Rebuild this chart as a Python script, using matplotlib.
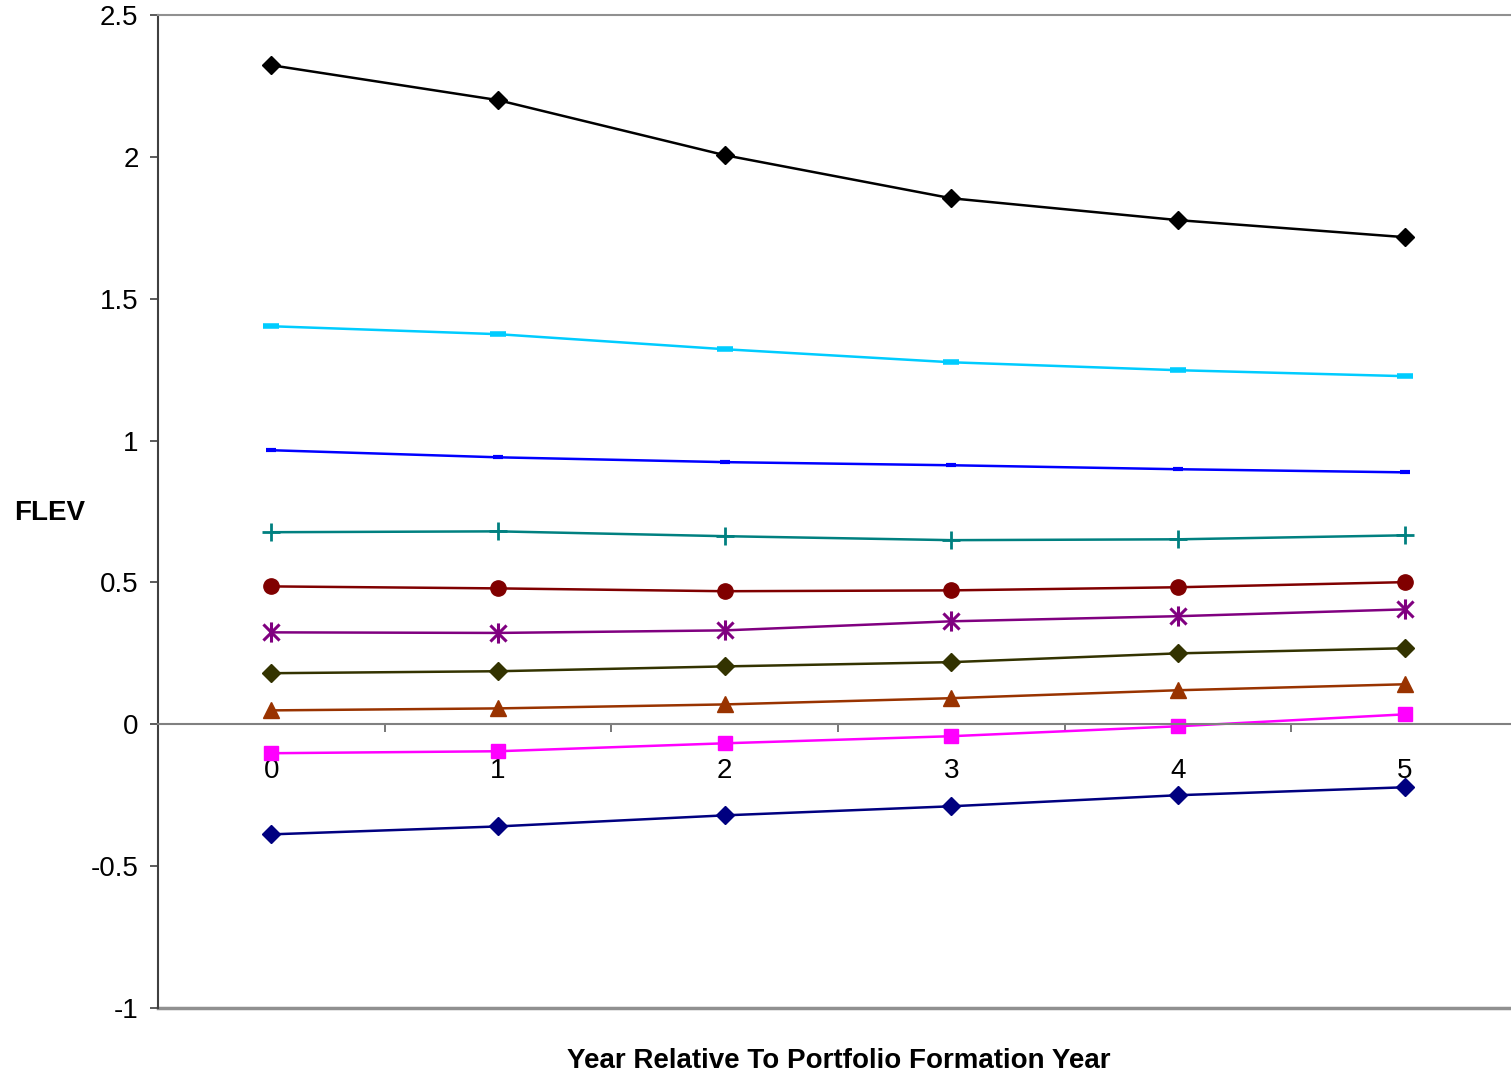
import numpy as np
import matplotlib.pyplot as plt
from matplotlib.path import Path

plt.rcParams['font.family'] = ['Liberation Sans', 'DejaVu Sans']

years = [0, 1, 2, 3, 4, 5]

# FLEV by portfolio, highest to lowest
p10 = [2.323, 2.200, 2.006, 1.854, 1.777, 1.717]
p9 = [1.403, 1.375, 1.322, 1.276, 1.248, 1.227]
p8 = [0.966, 0.941, 0.924, 0.913, 0.899, 0.888]
p7 = [0.677, 0.680, 0.663, 0.649, 0.652, 0.666]
p6 = [0.486, 0.479, 0.469, 0.472, 0.483, 0.501]
p5 = [0.324, 0.322, 0.331, 0.363, 0.381, 0.405]
p4 = [0.180, 0.187, 0.204, 0.219, 0.250, 0.268]
p3 = [0.049, 0.056, 0.070, 0.092, 0.120, 0.141]
p2 = [-0.102, -0.095, -0.067, -0.042, -0.007, 0.035]
p1 = [-0.388, -0.360, -0.321, -0.289, -0.250, -0.222]

# star marker: an X with a vertical stroke through it
star = Path([(-0.8, -0.8), (0.8, 0.8), (-0.8, 0.8), (0.8, -0.8), (0, -1), (0, 1)],
            [Path.MOVETO, Path.LINETO, Path.MOVETO, Path.LINETO, Path.MOVETO, Path.LINETO])

series = [
    (p10, '#000000', 'D', 9.5),
    (p9, '#00CCFF', '_', 12),
    (p8, '#0000FF', '_', 7),
    (p7, '#008080', '+', 13),
    (p6, '#800000', 'o', 11),
    (p5, '#800080', star, 14.5),
    (p4, '#333300', 'D', 9.5),
    (p3, '#993300', '^', 12),
    (p2, '#FF00FF', 's', 10),
    (p1, '#000080', 'D', 9),
]

fig = plt.figure(figsize=(15.11, 10.79), dpi=100)
ax = fig.add_axes([158 / 1511, 71 / 1079, 1360 / 1511, 993 / 1079])

for vals, color, marker, ms in series:
    kw = dict(color=color, lw=1.8, marker=marker, markersize=ms,
              markerfacecolor=color, markeredgecolor=color, clip_on=False)
    if isinstance(marker, Path):
        kw['markeredgewidth'] = 2.2
        kw['markerfacecolor'] = 'none'
    elif marker == '_':
        kw['markeredgewidth'] = 4 if ms > 10 else 3
    elif marker == '+':
        kw['markeredgewidth'] = 2
    ax.plot(years, vals, **kw)

ax.set_xlim(-0.5, 5.5)
ax.set_ylim(-1, 2.5)
ax.set_yticks([-1, -0.5, 0, 0.5, 1, 1.5, 2, 2.5])
ax.set_yticklabels(['-1', '-0.5', '0', '0.5', '1', '1.5', '2', '2.5'])
ax.tick_params(axis='y', labelsize=20, length=6, width=1.2, color='#404040', pad=8)

# category axis sits on the zero line
ax.spines['bottom'].set_position(('data', 0))
ax.spines['bottom'].set_color('#808080')
ax.spines['bottom'].set_linewidth(1.5)
ax.set_xticks([0.5, 1.5, 2.5, 3.5, 4.5])
ax.set_xticklabels([])
ax.set_xticks(years, minor=True)
ax.set_xticklabels([str(y) for y in years], minor=True)
ax.tick_params(axis='x', which='major', length=6, width=1.2, color='#606060', direction='out')
ax.tick_params(axis='x', which='minor', length=0, labelsize=20, pad=24)

ax.spines['left'].set_color('#404040')
ax.spines['left'].set_linewidth(1.5)
ax.spines['top'].set_color('#909090')
ax.spines['top'].set_linewidth(1.5)
ax.spines['right'].set_visible(False)
ax.axhline(-1, color='#909090', lw=2.5, clip_on=False, zorder=0.5)

fig.text(14 / 1511, 1 - 513 / 1079, 'FLEV', fontsize=20, fontweight='bold',
         ha='left', va='center')
fig.text(839 / 1511, 1 - 1061 / 1079, 'Year Relative To Portfolio Formation Year',
         fontsize=20, fontweight='bold', ha='center', va='center')

fig.savefig('out.png', dpi=100)
